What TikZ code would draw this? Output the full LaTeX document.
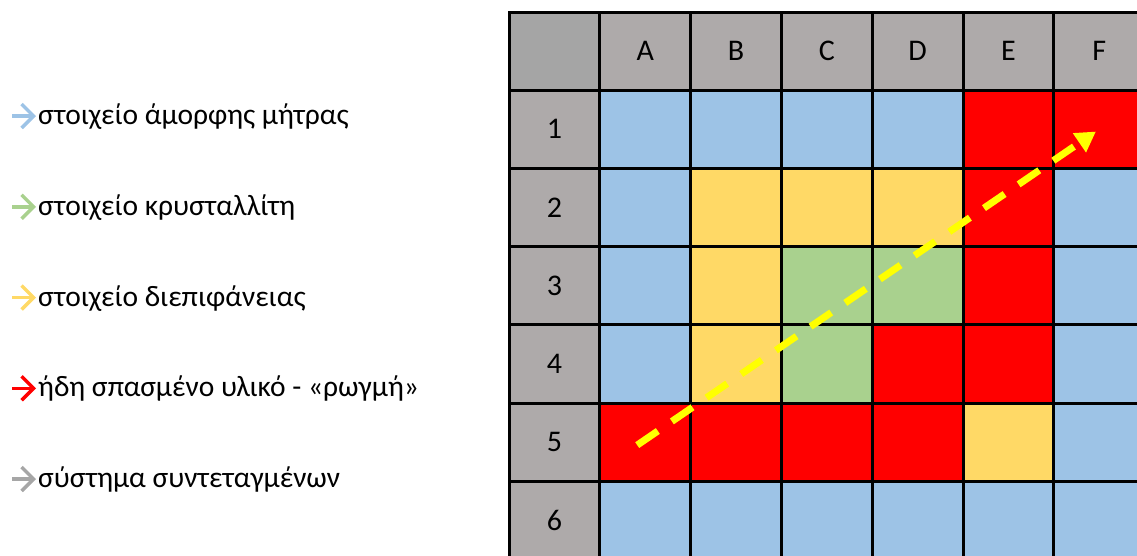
\documentclass[tikz,border=0pt]{standalone}
\usepackage{fontspec}
\setmainfont{Carlito}
\usetikzlibrary{positioning,arrows.meta}
\definecolor{matrixBlue}{HTML}{9DC3E6}
\definecolor{grainGreen}{HTML}{A9D18E}
\definecolor{faceYellow}{HTML}{FFD966}
\definecolor{crackRed}{HTML}{FF0000}
\definecolor{axisGray}{HTML}{A6A6A6}
\definecolor{headGray}{HTML}{AEAAAA}
\definecolor{cornerGray}{HTML}{A5A5A5}
\definecolor{pathYellow}{HTML}{FFFF00}
\tikzset{
    cell/.style={draw=none,minimum width=90.8pt,minimum height=78.2pt,
        inner sep=0pt,outer sep=0pt,anchor=north west,
        font=\fontsize{30}{32}\selectfont},
    mat/.style={fill=matrixBlue},
    grain/.style={fill=grainGreen},
    face/.style={fill=faceYellow},
    crack/.style={fill=crackRed},
    head/.style={cell,fill=headGray},
    gridline/.style={draw=black,line width=3pt,line cap=rect},
    legtext/.style={anchor=west,inner sep=0pt,text height=21pt,text depth=7pt,
        font=\fontsize{29.5}{32}\selectfont},
    legarrow/.style={-{Straight Barb[length=12pt,width=24pt]},line width=3.5pt,
        shorten >=2pt},
    crackpath/.style={-{Triangle[length=20pt,width=22pt]},draw=pathYellow,
        line width=7pt,dash pattern=on 25pt off 17pt,shorten >=4pt}
}
\begin{document}
\begin{tikzpicture}[x=1pt,y=-1pt]
    \useasboundingbox (0,0) rectangle (1137,555);
    % legend
    \coordinate (la-1) at (12,116);
    \coordinate (la-2) at (12,206.75);
    \coordinate (la-3) at (12,297.5);
    \coordinate (la-4) at (12,388.25);
    \coordinate (la-5) at (12,479);
    \node[legtext] (lt-1) at (38,117.5) {στοιχείο άμορφης μήτρας};
    \node[legtext] (lt-2) at (38,208.25) {στοιχείο κρυσταλλίτη};
    \node[legtext] (lt-3) at (38,299) {στοιχείο διεπιφάνειας};
    \node[legtext] (lt-4) at (38,389.75) {ήδη σπασμένο υλικό - «ρωγμή»};
    \node[legtext] (lt-5) at (38,480.5) {σύστημα συντεταγμένων};
    \draw[legarrow,matrixBlue] (la-1) -- (lt-1.west |- la-1);
    \draw[legarrow,grainGreen] (la-2) -- (lt-2.west |- la-2);
    \draw[legarrow,faceYellow] (la-3) -- (lt-3.west |- la-3);
    \draw[legarrow,crackRed] (la-4) -- (lt-4.west |- la-4);
    \draw[legarrow,axisGray] (la-5) -- (lt-5.west |- la-5);
    % headers
    \node[cell,fill=cornerGray] (corner) at (509,12) {};
    \foreach \name [count=\c] in {A,B,C,D,E,F}
        \node[head] (hd-\c) at ({509+90.8*\c},12) {\name};
    \foreach \r in {1,...,6}
        \node[head] (rw-\r) at (509,{12+78.2*\r}) {\r};
    % cells, one row per entry
    \foreach \kinds [count=\r] in {
        {mat,mat,mat,mat,crack,crack},
        {mat,face,face,face,crack,mat},
        {mat,face,grain,grain,crack,mat},
        {mat,face,grain,crack,crack,mat},
        {crack,crack,crack,crack,face,mat},
        {mat,mat,mat,mat,mat,mat}}
    {
        \foreach \k [count=\c] in \kinds
            \node[cell,\k] (c-\r-\c) at ({509+90.8*\c},{12+78.2*\r}) {};
    }
    % grid
    \foreach \i in {0,...,7} {
        \draw[gridline] ({509+90.8*\i},12) -- ({509+90.8*\i},560);
        \draw[gridline] (509,{12+78.2*\i}) -- (1150,{12+78.2*\i});
    }
    % crack path
    \draw[crackpath] ([shift={(-8pt,-3pt)}]c-5-1.center) -- (c-1-6.center);
\end{tikzpicture}
\end{document}
